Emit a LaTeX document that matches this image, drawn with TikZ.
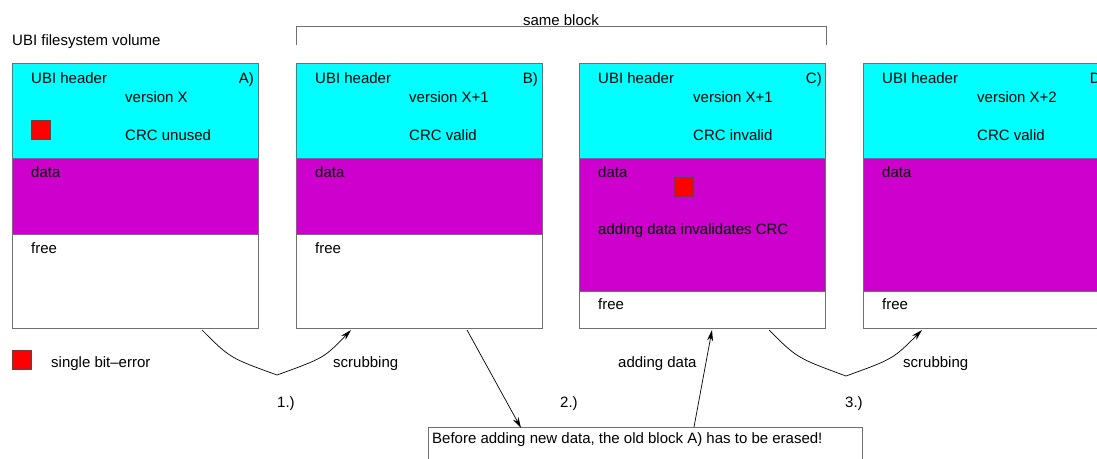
\documentclass[tikz,border=0pt]{standalone}
\usepackage{fontspec}
\setmainfont{Liberation Sans}
\usetikzlibrary{arrows.meta}
\definecolor{hdrcyan}{HTML}{00FFFF}
\definecolor{datamag}{HTML}{CD00CD}
\definecolor{errred}{HTML}{FF0000}
\definecolor{edge}{HTML}{707070}

\begin{document}
\begin{tikzpicture}[x=1pt,y=-1pt,
  font=\fontsize{15}{18}\selectfont,
  sect/.style={draw=edge, line width=0.8pt, anchor=north west, inner sep=0pt, minimum width=246pt},
  hdr/.style={sect, fill=hdrcyan, minimum height=95pt},
  datasec/.style={sect, fill=datamag},
  freesec/.style={sect, fill=white},
  lbl/.style={anchor=base west, inner sep=0pt},
  rlbl/.style={anchor=base east, inner sep=0pt},
  clbl/.style={anchor=base, inner sep=0pt},
  bit/.style={draw=black!70, fill=errred, line width=0.5pt, minimum size=19pt, inner sep=0pt, anchor=north west},
  conn/.style={-{Stealth[length=11pt,width=6pt]}, line width=0.7pt, black}
]
\useasboundingbox (0,0) rectangle (1097,458);
\clip (0,0) rectangle (1097,458);

% title and "same block" bracket
\node[lbl] (title) at (12,45) {UBI filesystem volume};
\coordinate (brL) at (296,45);
\coordinate (brR) at (826,45);
\draw[edge, line width=0.8pt] (brL) -- (296,26) -- (826,26) -- (brR);
\node[clbl] (same) at (561,25.5) {same block};

% block A
\node[hdr] (Ahdr) at (12,63) {};
\node[datasec, minimum height=76pt] (Adata) at (12,158) {};
\node[freesec, minimum height=94pt] (Afree) at (12,234) {};
\node[lbl] (Ah) at (31,83) {UBI header};
\node[lbl] (Av) at (125,102) {version X};
\node[lbl] (Ac) at (125,140) {CRC unused};
\node[rlbl] (Aid) at (254,83) {A)};
\node[bit] (Abit) at (31,120) {};
\node[lbl] (Ad) at (31,177) {data};
\node[lbl] (Af) at (31,253) {free};

% block B
\node[hdr] (Bhdr) at (296,63) {};
\node[datasec, minimum height=76pt] (Bdata) at (296,158) {};
\node[freesec, minimum height=94pt] (Bfree) at (296,234) {};
\node[lbl] (Bh) at (315,83) {UBI header};
\node[lbl] (Bv) at (409,102) {version X+1};
\node[lbl] (Bc) at (409,140) {CRC valid};
\node[rlbl] (Bid) at (538,83) {B)};
\node[lbl] (Bd) at (315,177) {data};
\node[lbl] (Bf) at (315,253) {free};

% block C
\node[hdr] (Chdr) at (579,63) {};
\node[datasec, minimum height=133pt] (Cdata) at (579,158) {};
\node[freesec, minimum height=37pt] (Cfree) at (579,291) {};
\node[lbl] (Ch) at (598,83) {UBI header};
\node[lbl] (Cv) at (693,102) {version X+1};
\node[lbl] (Cc) at (693,140) {CRC invalid};
\node[rlbl] (Cid) at (822,83) {C)};
\node[lbl] (Cd) at (598,177) {data};
\node[bit] (Cbit) at (674,177) {};
\node[lbl] (Cx) at (598,234) {adding data invalidates CRC};
\node[lbl] (Cf) at (598,309) {free};

% block D
\node[hdr] (Dhdr) at (863,63) {};
\node[datasec, minimum height=133pt] (Ddata) at (863,158) {};
\node[freesec, minimum height=37pt] (Dfree) at (863,291) {};
\node[lbl] (Dh) at (882,83) {UBI header};
\node[lbl] (Dv) at (977,102) {version X+2};
\node[lbl] (Dc) at (977,140) {CRC valid};
\node[rlbl] (Did) at (1106,83) {D)};
\node[lbl] (Dd) at (882,177) {data};
\node[lbl] (Df) at (882,309) {free};

% legend
\node[bit] (legbit) at (12,350) {};
\node[lbl] (legtxt) at (51,367) {single bit--error};

% note box
\node[draw=edge, line width=0.8pt, anchor=north west, inner sep=0pt,
      minimum width=434pt, minimum height=45pt, fill=white] (note) at (428,427) {};
\node[lbl] (notetxt) at (432,443) {Before adding new data, the old block A) has to be erased!};

% step 1: scrubbing A -> B
\coordinate (s1a) at (202,330);
\coordinate (s1m) at (277,375);
\coordinate (s1b) at (351,330);
\draw[conn] (s1a) .. controls (230,358) .. (s1m) .. controls (324,358) .. (s1b);
\node[lbl] (scr1) at (333,367) {scrubbing};
\node[lbl] (n1) at (277,407) {1.)};

% step 2: erase before adding data, then add data
\coordinate (s2a) at (467,330);
\coordinate (s2b) at (521,428);
\draw[conn] (s2a) -- (s2b);
\node[lbl] (n2) at (560,407) {2.)};
\coordinate (s2c) at (694,427);
\coordinate (s2d) at (712,330);
\draw[conn] (s2c) -- (s2d);
\node[lbl] (add) at (618,367) {adding data};

% step 3: scrubbing C -> D
\coordinate (s3a) at (769,330);
\coordinate (s3m) at (846,376);
\coordinate (s3b) at (922,330);
\draw[conn] (s3a) .. controls (797,358) .. (s3m) .. controls (893,359) .. (s3b);
\node[lbl] (scr3) at (903,367) {scrubbing};
\node[lbl] (n3) at (845,407) {3.)};
\end{tikzpicture}
\end{document}
